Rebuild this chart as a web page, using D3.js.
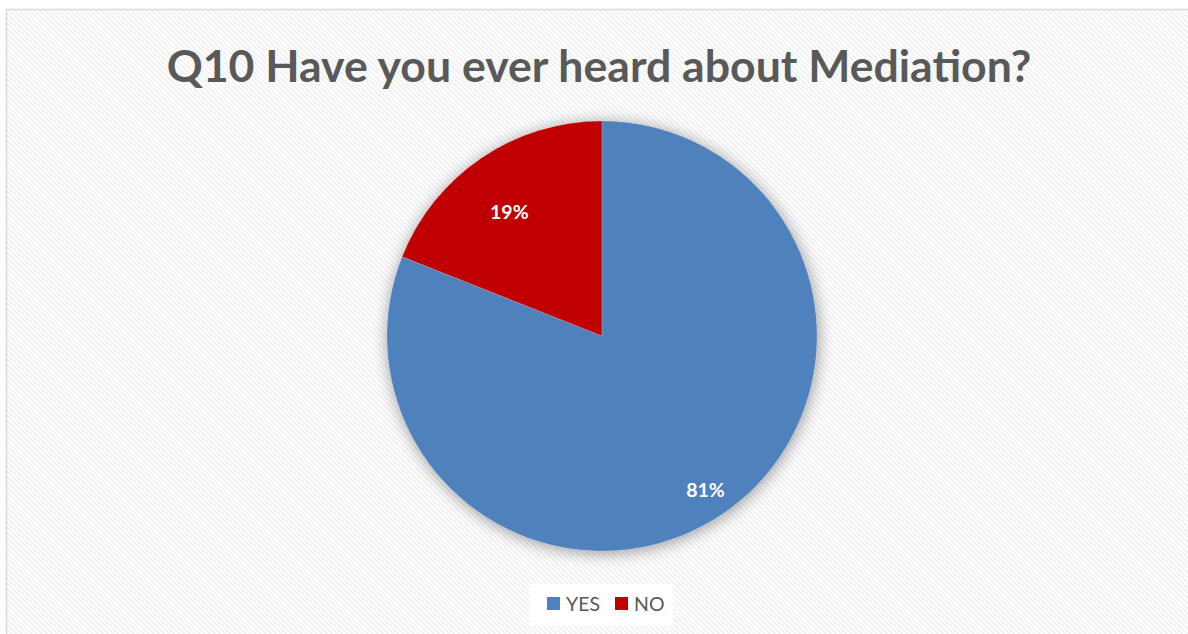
<!DOCTYPE html>
<html>
<head>
<meta charset="utf-8">
<script src="https://cdn.jsdelivr.net/npm/d3@7"></script>
<style>
  html, body { margin: 0; padding: 0; background: #fff; }
  svg { display: block; }
</style>
</head>
<body>
<svg id="chart" width="1188" height="634"></svg>
<script>
// Survey answers for Q10
const categories = ["YES", "NO"];
const shares = [81, 19];
const colors = ["#4f81bd", "#c00000"];
const titleText = "Q10 Have you ever heard about Mediation?";

const svg = d3.select("#chart");
const W = 1188, H = 634;

const defs = svg.append("defs");

// diagonal hatch background
const pat = defs.append("pattern")
  .attr("id", "hatch")
  .attr("patternUnits", "userSpaceOnUse")
  .attr("width", 4).attr("height", 3.6)
  .attr("patternTransform", "rotate(45)");
pat.append("rect").attr("width", 4).attr("height", 3.6).attr("fill", "#ffffff");
pat.append("rect").attr("width", 4).attr("height", 1.8).attr("fill", "#f1f1f1");

// soft shadow under the pie
const f = defs.append("filter").attr("id", "shadow")
  .attr("x", "-20%").attr("y", "-20%").attr("width", "140%").attr("height", "140%");
f.append("feDropShadow")
  .attr("dx", 1).attr("dy", 2)
  .attr("stdDeviation", 8)
  .attr("flood-color", "#000").attr("flood-opacity", 0.4);

svg.append("rect").attr("width", W).attr("height", H).attr("fill", "#fff");
svg.append("rect")
  .attr("x", 6.5).attr("y", 9.5)
  .attr("width", W + 10).attr("height", H + 10)
  .attr("fill", "url(#hatch)")
  .attr("stroke", "#d9d9d9").attr("stroke-width", 1.5);

// title
svg.append("text")
  .attr("x", 599).attr("y", 82)
  .attr("text-anchor", "middle")
  .attr("font-family", "Lato, 'Open Sans', sans-serif")
  .attr("font-weight", "bold")
  .attr("font-size", 44.6)
  .attr("fill", "#595959")
  .text(titleText);

// pie
const cx = 602, cy = 336, R = 215;
const data = categories.map((c, i) => ({ cat: c, value: shares[i], color: colors[i] }));
const pie = d3.pie().sort(null).value(d => d.value);
const arc = d3.arc().innerRadius(0).outerRadius(R);
const arcs = pie(data);

const g = svg.append("g").attr("transform", `translate(${cx},${cy})`);
g.append("g").attr("filter", "url(#shadow)")
  .selectAll("path").data(arcs).join("path")
  .attr("d", arc)
  .attr("fill", d => d.data.color);

g.selectAll("path.edge").data(arcs).join("path")
  .attr("class", "edge")
  .attr("d", arc)
  .attr("fill", "none")
  .attr("stroke", "rgba(255,255,255,0.25)")
  .attr("stroke-width", 0.6);

// value labels, placed near each slice's bisector
const labelRadius = [0.856, 0.717];
const labelNudge = [[0, 2], [-6, 4]];
g.selectAll("text.lbl").data(arcs).join("text")
  .attr("class", "lbl")
  .attr("transform", (d, i) => {
    const a = (d.startAngle + d.endAngle) / 2;
    const r = R * labelRadius[i];
    return `translate(${r * Math.sin(a) + labelNudge[i][0]},${-r * Math.cos(a) + labelNudge[i][1]})`;
  })
  .attr("text-anchor", "middle")
  .attr("dy", "0.35em")
  .attr("font-family", "Lato, 'Open Sans', sans-serif")
  .attr("font-weight", "bold")
  .attr("font-size", 19.5)
  .attr("fill", "#fff")
  .text(d => d.data.value + "%");

// legend
const lg = svg.append("g");
lg.append("rect").attr("x", 530).attr("y", 584).attr("width", 143).attr("height", 42).attr("fill", "#fff");
const items = lg.selectAll("g.item").data(data).join("g")
  .attr("class", "item")
  .attr("transform", (d, i) => `translate(${i === 0 ? 547 : 615},597)`);
items.append("rect").attr("width", 13).attr("height", 13).attr("fill", d => d.color);
items.append("text")
  .attr("x", 19).attr("y", 13.5)
  .attr("font-family", "Lato, 'Open Sans', sans-serif")
  .attr("font-size", 19.5)
  .attr("fill", "#595959")
  .text(d => d.cat);
</script>
</body>
</html>
